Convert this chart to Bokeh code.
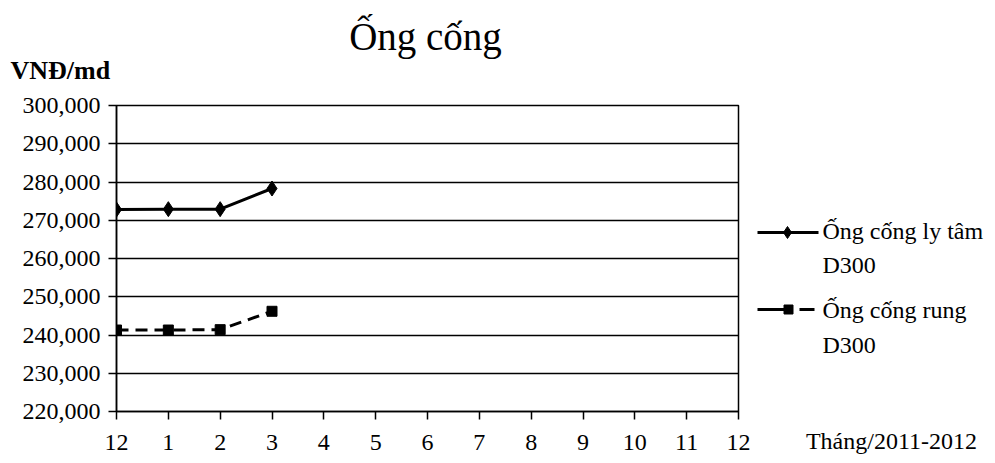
from bokeh.plotting import figure
from bokeh.models import Range1d, FixedTicker, NumeralTickFormatter
from bokeh.layouts import row, column
from bokeh.core.properties import value
from bokeh.embed import file_html
from bokeh.resources import INLINE

months = ["12", "1", "2", "3", "4", "5", "6", "7", "8", "9", "10", "11", "12"]
ly_tam = [272800, 272900, 272900, 278300]
rung = [241300, 241300, 241400, 246200]
series_names = ["Ống cống ly tâm\nD300", "Ống cống rung\nD300"]
title_text = "Ống cống"
y_unit = "VNĐ/md"
x_title = "Tháng/2011-2012"
y_ticks = list(range(220000, 300001, 10000))

FONT = "Liberation Serif"
HEAD_H = 93
MAIN_H = 463 - HEAD_H
FRAME_TOP, FRAME_BOTTOM = 105, 411
SPLIT_X = 757

# header with title and unit
hd = figure(width=995, height=HEAD_H, output_backend="svg", toolbar_location=None,
            x_range=Range1d(0, 995), y_range=Range1d(HEAD_H, 0), min_border=0)
hd.axis.visible = False
hd.grid.visible = False
hd.outline_line_color = None
hd.text([425], [36], text=[title_text], text_font=value(FONT), text_font_size="39px",
        text_align="center", text_baseline="middle", text_color="black")
hd.text([10], [70], text=[y_unit], text_font=value(FONT), text_font_size="26px",
        text_font_style="bold", text_align="left", text_baseline="middle", text_color="black")

p = figure(width=SPLIT_X, height=MAIN_H, output_backend="svg", toolbar_location=None,
           x_range=Range1d(0, 12), y_range=Range1d(220000, 300000),
           min_border_left=116, min_border_right=SPLIT_X - 738,
           min_border_top=FRAME_TOP - HEAD_H, min_border_bottom=463 - FRAME_BOTTOM)
p.outline_line_color = "black"
p.outline_line_width = 1.5
p.xgrid.grid_line_color = None
p.ygrid.grid_line_color = "black"
p.ygrid.grid_line_width = 1.5
p.ygrid.ticker = FixedTicker(ticks=y_ticks)

p.yaxis.ticker = FixedTicker(ticks=y_ticks)
p.yaxis.formatter = NumeralTickFormatter(format="0,0")
p.xaxis.ticker = FixedTicker(ticks=list(range(13)))
p.xaxis.major_label_overrides = {i: m for i, m in enumerate(months)}
p.axis.axis_line_color = "black"
p.axis.axis_line_width = 1.5
p.axis.major_tick_line_color = "black"
p.axis.major_tick_line_width = 1.5
p.axis.major_tick_in = 0
p.axis.major_tick_out = 8
p.axis.minor_tick_line_color = None
p.axis.major_label_text_font = FONT
p.axis.major_label_text_font_size = "24px"
p.axis.major_label_text_color = "black"
p.xaxis.major_label_standoff = 15
p.yaxis.major_label_standoff = 8

xs1 = list(range(len(ly_tam)))
xs2 = list(range(len(rung)))
p.line(xs1, ly_tam, line_color="black", line_width=3)
p.scatter(xs1, ly_tam, marker="diamond", size=15, color="black")
p.line(xs2, rung, line_color="black", line_width=3, line_dash="12 7")
p.scatter(xs2, rung, marker="square", size=10, color="black")

# legend / right-hand panel, its frame aligned with the main frame (page coordinates)
lg = figure(width=995 - SPLIT_X, height=MAIN_H, output_backend="svg", toolbar_location=None,
            x_range=Range1d(SPLIT_X, 995), y_range=Range1d(FRAME_BOTTOM, FRAME_TOP),
            min_border_left=0, min_border_right=0,
            min_border_top=FRAME_TOP - HEAD_H, min_border_bottom=463 - FRAME_BOTTOM)
lg.yaxis.visible = False
lg.grid.visible = False
lg.outline_line_color = None
# the x-axis title sits below the legend, drawn as the single label of this panel's axis
lg.xaxis.ticker = FixedTicker(ticks=[891])
lg.xaxis.major_label_overrides = {891: x_title}
lg.xaxis.axis_line_color = None
lg.xaxis.major_tick_line_color = None
lg.xaxis.minor_tick_line_color = None
lg.xaxis.major_tick_in = 0
lg.xaxis.major_tick_out = 0
lg.xaxis.major_label_standoff = 16
lg.xaxis.major_label_text_font = FONT
lg.xaxis.major_label_text_font_size = "24px"
lg.xaxis.major_label_text_color = "black"

y1, y2 = 232, 309
lg.line([756, 818], [y1, y1], line_color="black", line_width=3)
lg.scatter([787], [y1], marker="diamond", size=12, color="black")
lg.line([756, 790], [y2, y2], line_color="black", line_width=3)
lg.line([799, 814], [y2, y2], line_color="black", line_width=3)
lg.scatter([788], [y2], marker="square", size=9, color="black")

lines1 = series_names[0].split("\n")
lines2 = series_names[1].split("\n")
lg.text([822, 822], [230, 264], text=lines1, text_font=value(FONT), text_font_size="24px",
        text_align="left", text_baseline="middle", text_color="black")
lg.text([822, 822], [309, 344], text=lines2, text_font=value(FONT), text_font_size="24px",
        text_align="left", text_baseline="middle", text_color="black")

layout = column(hd, row(p, lg, spacing=0), spacing=0)
open("out.html", "w").write(file_html(layout, INLINE))
